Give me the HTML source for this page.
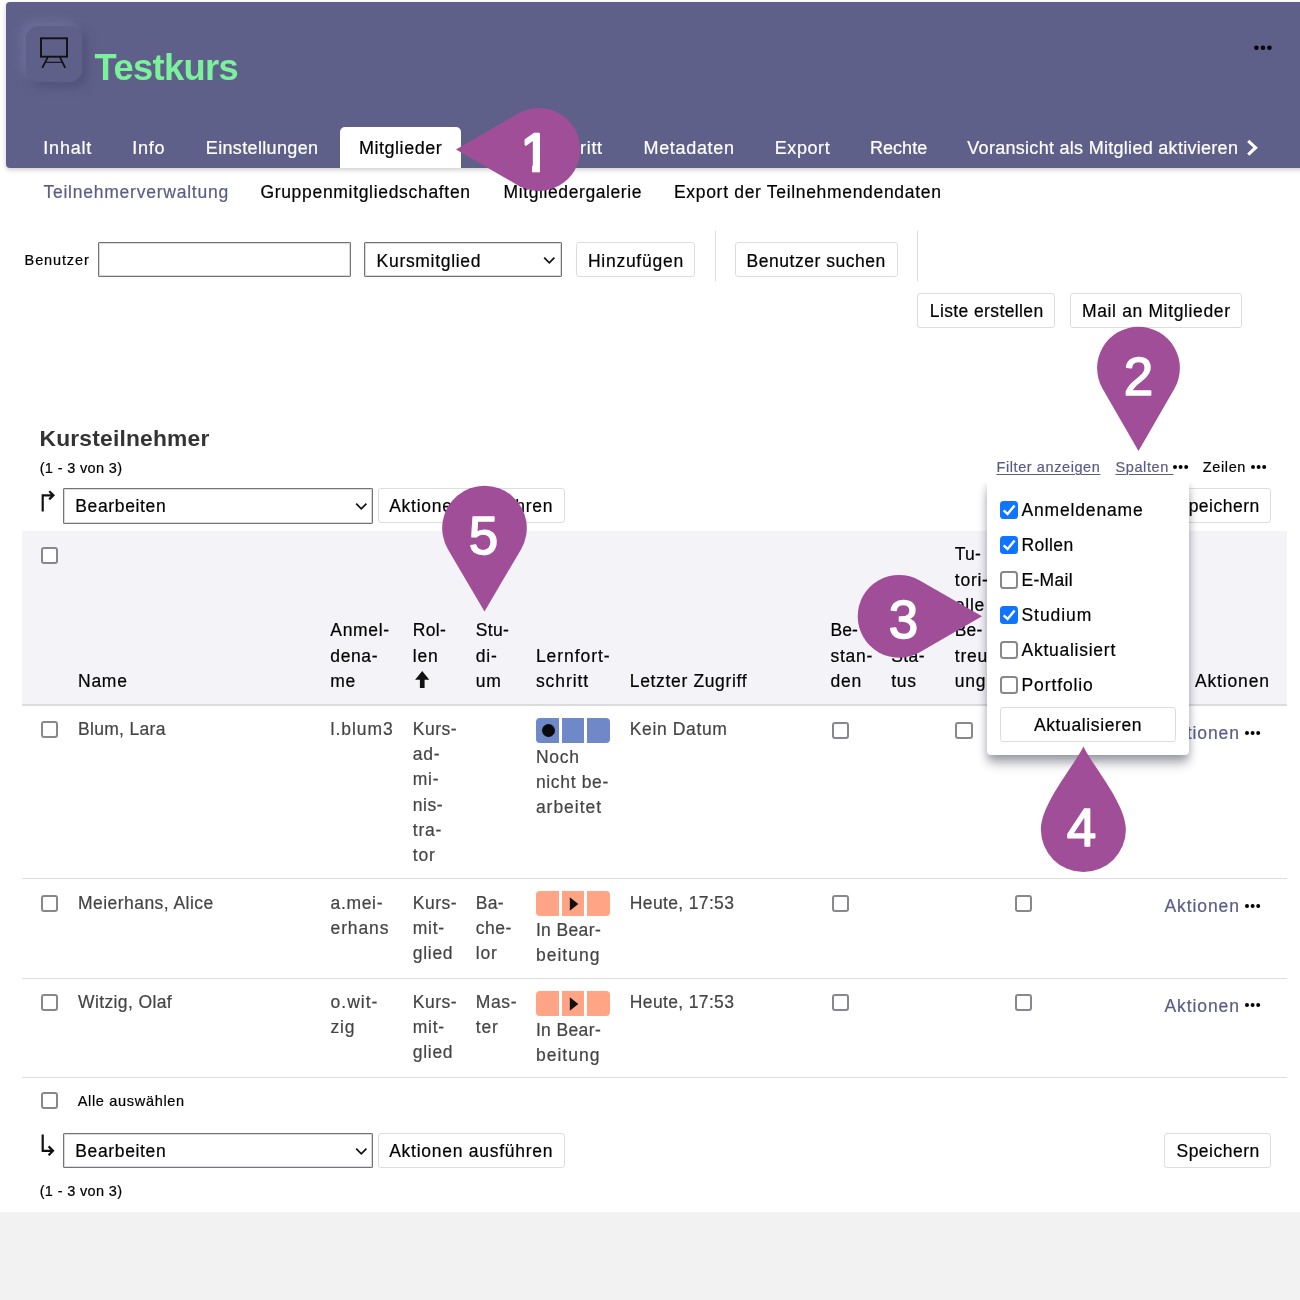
<!DOCTYPE html>
<html lang="de">
<head>
<meta charset="utf-8">
<title>Testkurs – Mitglieder</title>
<style>
html,body{margin:0;padding:0;}
body{width:1300px;height:1300px;overflow:hidden;background:#f2f2f2;font-family:"Liberation Sans",sans-serif;position:relative;}
.abs,.t,.btn,.inp,.cb,.line,.seg{position:absolute;box-sizing:border-box;}
.t{white-space:pre;line-height:1;-webkit-text-stroke:0.2px;}
#page{position:absolute;left:0;top:0;width:1300px;height:1212px;background:#fff;}
#hdr{position:absolute;left:6px;top:2px;width:1300px;height:165.5px;background:#5f608a;border-radius:4px 0 0 4px;box-shadow:0 2px 5px rgba(0,0,0,.2);}
#icon{position:absolute;left:26px;top:26px;width:56px;height:56px;border-radius:12px;background:#5f608a;box-shadow:-5px -5px 10px rgba(120,121,165,.55),5px 5px 10px rgba(70,71,110,.55);}
#tab{position:absolute;left:340px;top:127px;width:120.7px;height:41px;background:#fff;border-radius:5px 5px 0 0;}
.btn{background:#fff;border:1px solid #ddd;border-radius:3px;}
.inp{background:#fff;border:1px solid #73737d;border-radius:1px;box-shadow:inset 0 0 0 1px rgba(118,118,130,.28);}
.line{background:#ddd;}
.cb{width:17.4px;height:17px;border:2px solid #87878f;border-radius:3px;background:#fff;}
.cb.on{border:0;background:#0f75ff;}
.cb.dc{width:18px;height:18px;border-radius:3.5px;}
.seg{height:25.2px;}
.blue{background:#6f89c8;}
.sal{background:#ffa585;}
#thead{position:absolute;left:21.5px;top:531px;width:1265px;height:173px;background:#f4f3f7;border-bottom:2.4px solid #dcdcdc;box-sizing:content-box;}
#dd{position:absolute;left:987.2px;top:481px;width:201.7px;height:274.2px;background:#fff;border-radius:0 0 4px 4px;box-shadow:0 9px 11px -1px rgba(30,30,55,.36),0 3px 7px rgba(30,30,55,.16);clip-path:inset(2px -40px -40px -40px);}
svg{position:absolute;overflow:visible;}
.num{font-family:"Liberation Sans",sans-serif;font-size:53px;fill:#fff;text-anchor:middle;stroke:#fff;stroke-width:1.5px;stroke-linejoin:round;}
</style>
</head>
<body>
<div id="page">
  <header id="hdr"></header>
  <div id="icon"></div>
  <svg style="left:38px;top:35px" width="32" height="36" viewBox="38 35 32 36"><rect x="41" y="38.3" width="26" height="18.4" fill="none" stroke="#111" stroke-width="1.9"/><path d="M47.7 57.3 L42.3 67.8 M60 57.3 L65.2 67.8" stroke="#111" stroke-width="1.7" fill="none"/><path d="M46 62.3 H62" stroke="#111" stroke-width="1.1"/></svg>
  <svg style="left:1253px;top:44px" width="20" height="8" viewBox="0 0 20 8"><circle cx="3.4" cy="3.8" r="2.3"/><circle cx="9.9" cy="3.8" r="2.3"/><circle cx="16.4" cy="3.8" r="2.3"/></svg>
  <nav id="tab"></nav>
  <svg style="left:1246px;top:139px" width="14" height="18" viewBox="0 0 14 18"><path d="M2.2 1.8 L9.6 8.7 L2.2 15.6" fill="none" stroke="#fff" stroke-width="3.1"/></svg>

  <!-- toolbar -->
  <div class="inp" style="left:98px;top:242px;width:252.5px;height:35px"></div>
  <div class="inp" style="left:364.2px;top:242px;width:197.5px;height:35px"></div>
  <svg style="left:543px;top:256px" width="13" height="9" viewBox="0 0 13 9"><path d="M1.2 1.6 L6.3 6.8 L11.4 1.6" fill="none" stroke="#111" stroke-width="1.7"/></svg>
  <div class="btn" style="left:575.8px;top:242px;width:119.6px;height:35px"></div>
  <div class="line" style="left:715px;top:231px;width:1px;height:50px"></div>
  <div class="btn" style="left:735px;top:242px;width:162.6px;height:35px"></div>
  <div class="line" style="left:916.7px;top:231px;width:1px;height:50px"></div>
  <div class="btn" style="left:917.3px;top:293px;width:138.2px;height:34.5px"></div>
  <div class="btn" style="left:1070px;top:293px;width:172.4px;height:34.5px"></div>

  <!-- table tools -->
  <svg style="left:40px;top:490px" width="16" height="22" viewBox="0 0 16 22"><path d="M2.7 21.6 V5.3 H13 M9.2 1.2 L13.4 5.3 L9.2 9.4" fill="none" stroke="#111" stroke-width="2.2"/></svg>
  <div class="inp" style="left:63px;top:488px;width:310.3px;height:35.7px"></div>
  <svg style="left:355px;top:502px" width="13" height="9" viewBox="0 0 13 9"><path d="M1.2 1.6 L6.3 6.8 L11.4 1.6" fill="none" stroke="#111" stroke-width="1.7"/></svg>
  <div class="btn" style="left:377.7px;top:488.3px;width:187.3px;height:35px"></div>
  <div class="btn" style="left:1164.3px;top:488.3px;width:106.6px;height:35px"></div>
  <svg style="left:1172px;top:464px" width="18" height="6" viewBox="0 0 18 6"><circle cx="3" cy="3" r="2"/><circle cx="8.6" cy="3" r="2"/><circle cx="14.2" cy="3" r="2"/></svg>
  <svg style="left:1249.5px;top:464px" width="18" height="6" viewBox="0 0 18 6"><circle cx="3" cy="3" r="2"/><circle cx="8.6" cy="3" r="2"/><circle cx="14.2" cy="3" r="2"/></svg>

  <!-- table -->
  <div id="thead"></div>
  <div class="line" style="left:21.5px;top:878px;width:1265px;height:1px"></div>
  <div class="line" style="left:21.5px;top:977.6px;width:1265px;height:1px"></div>
  <div class="line" style="left:21.5px;top:1077px;width:1265px;height:1px"></div>
  <div class="cb" style="left:40.6px;top:547px"></div>
  <svg style="left:415.4px;top:671px" width="15" height="18" viewBox="0 0 15 18"><path d="M7.2 0 L14.3 8.7 H9.6 V17 H4.9 V8.7 H0.1 Z" fill="#111"/></svg>

  <!-- row 1 -->
  <div class="cb" style="left:40.6px;top:721.2px"></div>
  <div class="seg blue" style="left:536.3px;top:717.9px;width:22.8px;border-radius:4px 0 0 4px"></div>
  <div class="seg blue" style="left:562.1px;top:717.9px;width:22px"></div>
  <div class="seg blue" style="left:587.1px;top:717.9px;width:23.1px;border-radius:0 4px 4px 0"></div>
  <div class="abs" style="left:541.8px;top:724.3px;width:13px;height:13px;border-radius:50%;background:#0a0a0a"></div>
  <div class="cb" style="left:831.6px;top:721.8px"></div>
  <div class="cb" style="left:955.2px;top:721.8px"></div>
  <svg style="left:1243.7px;top:729.6px" width="18" height="6" viewBox="0 0 18 6"><circle cx="3" cy="3" r="2"/><circle cx="8.6" cy="3" r="2"/><circle cx="14.2" cy="3" r="2"/></svg>
  <!-- row 2 -->
  <div class="cb" style="left:40.6px;top:895px"></div>
  <div class="seg sal" style="left:536.3px;top:891.3px;width:22.8px;border-radius:4px 0 0 4px"></div>
  <div class="seg sal" style="left:562.1px;top:891.3px;width:22px"></div>
  <div class="seg sal" style="left:587.1px;top:891.3px;width:23.1px;border-radius:0 4px 4px 0"></div>
  <svg style="left:569px;top:897px" width="11" height="14" viewBox="0 0 11 14"><path d="M0.8 0.3 L9.3 7 L0.8 13.7 Z" fill="#111"/></svg>
  <div class="cb" style="left:831.8px;top:895px"></div>
  <div class="cb" style="left:1015px;top:895px"></div>
  <svg style="left:1243.7px;top:903px" width="18" height="6" viewBox="0 0 18 6"><circle cx="3" cy="3" r="2"/><circle cx="8.6" cy="3" r="2"/><circle cx="14.2" cy="3" r="2"/></svg>
  <!-- row 3 -->
  <div class="cb" style="left:40.6px;top:994.2px"></div>
  <div class="seg sal" style="left:536.3px;top:990.8px;width:22.8px;border-radius:4px 0 0 4px"></div>
  <div class="seg sal" style="left:562.1px;top:990.8px;width:22px"></div>
  <div class="seg sal" style="left:587.1px;top:990.8px;width:23.1px;border-radius:0 4px 4px 0"></div>
  <svg style="left:569px;top:996.5px" width="11" height="14" viewBox="0 0 11 14"><path d="M0.8 0.3 L9.3 7 L0.8 13.7 Z" fill="#111"/></svg>
  <div class="cb" style="left:831.8px;top:994.3px"></div>
  <div class="cb" style="left:1015px;top:994.3px"></div>
  <svg style="left:1243.7px;top:1002.4px" width="18" height="6" viewBox="0 0 18 6"><circle cx="3" cy="3" r="2"/><circle cx="8.6" cy="3" r="2"/><circle cx="14.2" cy="3" r="2"/></svg>
  <!-- bottom -->
  <div class="cb" style="left:40.6px;top:1092.2px"></div>
  <svg style="left:40px;top:1134px" width="16" height="24" viewBox="0 0 16 24"><path d="M2.7 0.6 V16.8 H12.6 M8.6 12.4 L13 16.8 L8.6 21.2" fill="none" stroke="#111" stroke-width="2.2"/></svg>
  <div class="inp" style="left:63px;top:1133px;width:310.3px;height:35.3px"></div>
  <svg style="left:355px;top:1147px" width="13" height="9" viewBox="0 0 13 9"><path d="M1.2 1.6 L6.3 6.8 L11.4 1.6" fill="none" stroke="#111" stroke-width="1.7"/></svg>
  <div class="btn" style="left:377.7px;top:1133.2px;width:187.3px;height:35px"></div>
  <div class="btn" style="left:1164.3px;top:1133.2px;width:106.6px;height:35px"></div>

<span class="t" style="left:94.6px;top:50.0px;font-size:36.3px;color:#7cf19c;letter-spacing:-0.656px;font-weight:700;-webkit-text-stroke:0;">Testkurs</span>
<span class="t" style="left:43.3px;top:139.0px;font-size:18px;color:#fff;letter-spacing:0.806px;">Inhalt</span>
<span class="t" style="left:132.2px;top:139.0px;font-size:18px;color:#fff;letter-spacing:0.75px;">Info</span>
<span class="t" style="left:205.8px;top:139.0px;font-size:18px;color:#fff;letter-spacing:0.343px;">Einstellungen</span>
<span class="t" style="left:358.9px;top:139.0px;font-size:18px;color:#000;letter-spacing:0.542px;">Mitglieder</span>
<span class="t" style="left:482.6px;top:139.0px;font-size:18px;color:#fff;letter-spacing:0.678px;">Lernfortschritt</span>
<span class="t" style="left:643.5px;top:139.0px;font-size:18px;color:#fff;letter-spacing:0.673px;">Metadaten</span>
<span class="t" style="left:774.7px;top:139.0px;font-size:18px;color:#fff;letter-spacing:0.591px;">Export</span>
<span class="t" style="left:869.9px;top:139.0px;font-size:18px;color:#fff;letter-spacing:0.061px;">Rechte</span>
<span class="t" style="left:967.3px;top:139.0px;font-size:18px;color:#fff;letter-spacing:0.288px;">Voransicht als Mitglied aktivieren</span>
<span class="t" style="left:43.4px;top:184.0px;font-size:17.5px;color:#5b5c86;letter-spacing:0.769px;">Teilnehmerverwaltung</span>
<span class="t" style="left:260.4px;top:184.0px;font-size:17.5px;color:#000;letter-spacing:0.687px;">Gruppenmitgliedschaften</span>
<span class="t" style="left:503.6px;top:184.0px;font-size:17.5px;color:#000;letter-spacing:0.595px;">Mitgliedergalerie</span>
<span class="t" style="left:674.0px;top:184.0px;font-size:17.5px;color:#000;letter-spacing:0.682px;">Export der Teilnehmendendaten</span>
<span class="t" style="left:24.6px;top:253.0px;font-size:14.5px;color:#000;letter-spacing:0.873px;">Benutzer</span>
<span class="t" style="left:376.6px;top:253.0px;font-size:17.5px;color:#000;letter-spacing:0.689px;">Kursmitglied</span>
<span class="t" style="left:587.9px;top:253.0px;font-size:17.5px;color:#000;letter-spacing:0.745px;">Hinzufügen</span>
<span class="t" style="left:746.5px;top:253.0px;font-size:17.5px;color:#000;letter-spacing:0.53px;">Benutzer suchen</span>
<span class="t" style="left:929.8px;top:303.0px;font-size:17.5px;color:#000;letter-spacing:0.389px;">Liste erstellen</span>
<span class="t" style="left:1082.0px;top:303.0px;font-size:17.5px;color:#000;letter-spacing:0.639px;">Mail an Mitglieder</span>
<span class="t" style="left:39.5px;top:427.0px;font-size:22.8px;color:#333;letter-spacing:0.198px;font-weight:700;-webkit-text-stroke:0;">Kursteilnehmer</span>
<span class="t" style="left:39.7px;top:461.0px;font-size:14.5px;color:#000;letter-spacing:0.346px;">(1 - 3 von 3)</span>
<span class="t" style="left:996.5px;top:460.0px;font-size:14.5px;color:#5b5c86;letter-spacing:0.585px;text-decoration:underline;text-underline-offset:2px;text-decoration-thickness:1px;">Filter anzeigen</span>
<span class="t" style="left:1115.5px;top:460.0px;font-size:14.5px;color:#5b5c86;letter-spacing:0.601px;text-decoration:underline;text-underline-offset:2px;text-decoration-thickness:1px;">Spalten&nbsp;</span>
<span class="t" style="left:1202.8px;top:460.0px;font-size:14.5px;color:#000;letter-spacing:0.617px;">Zeilen</span>
<span class="t" style="left:75.2px;top:498.0px;font-size:17.5px;color:#000;letter-spacing:0.649px;">Bearbeiten</span>
<span class="t" style="left:389.2px;top:498.0px;font-size:17.5px;color:#000;letter-spacing:0.732px;">Aktionen ausführen</span>
<span class="t" style="left:1176.5px;top:498.0px;font-size:17.5px;color:#000;letter-spacing:0.484px;">Speichern</span>
<span class="t" style="left:78.0px;top:673.0px;font-size:17.5px;color:#000;letter-spacing:0.75px;">Name</span>
<span class="t" style="left:330.3px;top:622.0px;font-size:17.5px;color:#000;letter-spacing:0.67px;">Anmel-</span>
<span class="t" style="left:330.3px;top:648.0px;font-size:17.5px;color:#000;letter-spacing:0.613px;">dena-</span>
<span class="t" style="left:330.3px;top:673.0px;font-size:17.5px;color:#000;letter-spacing:0.75px;">me</span>
<span class="t" style="left:412.8px;top:622.0px;font-size:17.5px;color:#000;letter-spacing:0.352px;">Rol-</span>
<span class="t" style="left:412.8px;top:648.0px;font-size:17.5px;color:#000;letter-spacing:0.75px;">len</span>
<span class="t" style="left:475.8px;top:622.0px;font-size:17.5px;color:#000;letter-spacing:0.347px;">Stu-</span>
<span class="t" style="left:475.8px;top:648.0px;font-size:17.5px;color:#000;letter-spacing:0.75px;">di-</span>
<span class="t" style="left:475.8px;top:673.0px;font-size:17.5px;color:#000;letter-spacing:0.75px;">um</span>
<span class="t" style="left:535.9px;top:648.0px;font-size:17.5px;color:#000;letter-spacing:0.951px;">Lernfort-</span>
<span class="t" style="left:535.9px;top:673.0px;font-size:17.5px;color:#000;letter-spacing:0.929px;">schritt</span>
<span class="t" style="left:629.8px;top:673.0px;font-size:17.5px;color:#000;letter-spacing:0.654px;">Letzter Zugriff</span>
<span class="t" style="left:830.5px;top:622.0px;font-size:17.5px;color:#000;letter-spacing:0.1px;">Be-</span>
<span class="t" style="left:830.5px;top:648.0px;font-size:17.5px;color:#000;letter-spacing:0.75px;">stan-</span>
<span class="t" style="left:830.5px;top:673.0px;font-size:17.5px;color:#000;letter-spacing:0.75px;">den</span>
<span class="t" style="left:891.2px;top:648.0px;font-size:17.5px;color:#000;letter-spacing:0.433px;">Sta-</span>
<span class="t" style="left:891.2px;top:673.0px;font-size:17.5px;color:#000;letter-spacing:0.75px;">tus</span>
<span class="t" style="left:954.8px;top:546.0px;font-size:17.5px;color:#000;letter-spacing:0.206px;">Tu-</span>
<span class="t" style="left:954.8px;top:572.0px;font-size:17.5px;color:#000;letter-spacing:0.75px;">tori-</span>
<span class="t" style="left:954.8px;top:597.0px;font-size:17.5px;color:#000;letter-spacing:0.75px;">elle</span>
<span class="t" style="left:954.8px;top:622.0px;font-size:17.5px;color:#000;letter-spacing:0.1px;">Be-</span>
<span class="t" style="left:954.8px;top:648.0px;font-size:17.5px;color:#000;letter-spacing:0.75px;">treu-</span>
<span class="t" style="left:954.8px;top:673.0px;font-size:17.5px;color:#000;letter-spacing:0.75px;">ung</span>
<span class="t" style="left:1195.0px;top:673.0px;font-size:17.5px;color:#000;letter-spacing:0.842px;">Aktionen</span>
<span class="t" style="left:78.0px;top:721.0px;font-size:17.5px;color:#444;letter-spacing:0.305px;">Blum, Lara</span>
<span class="t" style="left:330.6px;top:721.0px;font-size:17.5px;color:#444;letter-spacing:0.939px;">l.blum3</span>
<span class="t" style="left:412.8px;top:721.0px;font-size:17.5px;color:#444;letter-spacing:0.514px;">Kurs-</span>
<span class="t" style="left:412.8px;top:746.0px;font-size:17.5px;color:#444;letter-spacing:0.731px;">ad-</span>
<span class="t" style="left:412.8px;top:771.0px;font-size:17.5px;color:#444;letter-spacing:0.75px;">mi-</span>
<span class="t" style="left:412.8px;top:797.0px;font-size:17.5px;color:#444;letter-spacing:0.549px;">nis-</span>
<span class="t" style="left:412.8px;top:822.0px;font-size:17.5px;color:#444;letter-spacing:0.75px;">tra-</span>
<span class="t" style="left:412.8px;top:847.0px;font-size:17.5px;color:#444;letter-spacing:0.75px;">tor</span>
<span class="t" style="left:535.9px;top:749.0px;font-size:17.5px;color:#444;letter-spacing:0.75px;">Noch</span>
<span class="t" style="left:535.9px;top:774.0px;font-size:17.5px;color:#444;letter-spacing:0.659px;">nicht be-</span>
<span class="t" style="left:535.9px;top:799.0px;font-size:17.5px;color:#444;letter-spacing:0.967px;">arbeitet</span>
<span class="t" style="left:629.8px;top:721.0px;font-size:17.5px;color:#444;letter-spacing:0.62px;">Kein Datum</span>
<span class="t" style="left:1164.4px;top:725.0px;font-size:17.5px;color:#5b5c86;letter-spacing:0.922px;">Aktionen</span>
<span class="t" style="left:78.0px;top:895.0px;font-size:17.5px;color:#444;letter-spacing:0.453px;">Meierhans, Alice</span>
<span class="t" style="left:330.6px;top:895.0px;font-size:17.5px;color:#444;letter-spacing:0.655px;">a.mei-</span>
<span class="t" style="left:330.6px;top:920.0px;font-size:17.5px;color:#444;letter-spacing:0.856px;">erhans</span>
<span class="t" style="left:412.8px;top:895.0px;font-size:17.5px;color:#444;letter-spacing:0.514px;">Kurs-</span>
<span class="t" style="left:412.8px;top:920.0px;font-size:17.5px;color:#444;letter-spacing:0.75px;">mit-</span>
<span class="t" style="left:412.8px;top:945.0px;font-size:17.5px;color:#444;letter-spacing:0.698px;">glied</span>
<span class="t" style="left:475.8px;top:895.0px;font-size:17.5px;color:#444;letter-spacing:0.316px;">Ba-</span>
<span class="t" style="left:475.8px;top:920.0px;font-size:17.5px;color:#444;letter-spacing:0.508px;">che-</span>
<span class="t" style="left:475.8px;top:945.0px;font-size:17.5px;color:#444;letter-spacing:0.75px;">lor</span>
<span class="t" style="left:535.9px;top:922.0px;font-size:17.5px;color:#444;letter-spacing:0.37px;">In Bear-</span>
<span class="t" style="left:535.9px;top:947.0px;font-size:17.5px;color:#444;letter-spacing:1.016px;">beitung</span>
<span class="t" style="left:629.8px;top:895.0px;font-size:17.5px;color:#444;letter-spacing:0.357px;">Heute, 17:53</span>
<span class="t" style="left:1164.4px;top:898.0px;font-size:17.5px;color:#5b5c86;letter-spacing:0.922px;">Aktionen</span>
<span class="t" style="left:78.0px;top:994.0px;font-size:17.5px;color:#444;letter-spacing:0.387px;">Witzig, Olaf</span>
<span class="t" style="left:330.6px;top:994.0px;font-size:17.5px;color:#444;letter-spacing:0.984px;">o.wit-</span>
<span class="t" style="left:330.6px;top:1019.0px;font-size:17.5px;color:#444;letter-spacing:0.74px;">zig</span>
<span class="t" style="left:412.8px;top:994.0px;font-size:17.5px;color:#444;letter-spacing:0.514px;">Kurs-</span>
<span class="t" style="left:412.8px;top:1019.0px;font-size:17.5px;color:#444;letter-spacing:0.75px;">mit-</span>
<span class="t" style="left:412.8px;top:1044.0px;font-size:17.5px;color:#444;letter-spacing:0.698px;">glied</span>
<span class="t" style="left:475.8px;top:994.0px;font-size:17.5px;color:#444;letter-spacing:0.61px;">Mas-</span>
<span class="t" style="left:475.8px;top:1019.0px;font-size:17.5px;color:#444;letter-spacing:0.75px;">ter</span>
<span class="t" style="left:535.9px;top:1022.0px;font-size:17.5px;color:#444;letter-spacing:0.37px;">In Bear-</span>
<span class="t" style="left:535.9px;top:1047.0px;font-size:17.5px;color:#444;letter-spacing:1.016px;">beitung</span>
<span class="t" style="left:629.8px;top:994.0px;font-size:17.5px;color:#444;letter-spacing:0.357px;">Heute, 17:53</span>
<span class="t" style="left:1164.4px;top:998.0px;font-size:17.5px;color:#5b5c86;letter-spacing:0.922px;">Aktionen</span>
<span class="t" style="left:77.7px;top:1094.0px;font-size:14.5px;color:#000;letter-spacing:0.685px;">Alle auswählen</span>
<span class="t" style="left:75.2px;top:1143.0px;font-size:17.5px;color:#000;letter-spacing:0.649px;">Bearbeiten</span>
<span class="t" style="left:389.2px;top:1143.0px;font-size:17.5px;color:#000;letter-spacing:0.732px;">Aktionen ausführen</span>
<span class="t" style="left:1176.5px;top:1143.0px;font-size:17.5px;color:#000;letter-spacing:0.484px;">Speichern</span>
<span class="t" style="left:39.7px;top:1184.0px;font-size:14.5px;color:#000;letter-spacing:0.346px;">(1 - 3 von 3)</span>

  <!-- markers below dropdown: 1,2,3,5 -->
  <svg style="left:0;top:0" width="1300" height="1300" viewBox="0 0 1300 1300">
    <g fill="#a04e98">
      <path transform="translate(539,149.5) rotate(90)" d="M0 83 L-35.9 20.75 A41.4 41.4 0 1 1 35.9 20.75 Z"/>
      <path transform="translate(1138.5,368)" d="M0 83 L-35.9 20.75 A41.4 41.4 0 1 1 35.9 20.75 Z"/>
      <path transform="translate(899,616.3) rotate(-90)" d="M0 83 L-35.9 20.75 A41.4 41.4 0 1 1 35.9 20.75 Z"/>
      <path transform="translate(484.5,528.4)" d="M0 83 L-36.5 21 A42.3 42.3 0 1 1 36.5 21 Z"/>
    </g>
    <text class="num" x="535.4" y="170.6" style="stroke-width:2.4px">1</text>
    <path fill="#a04e98" d="M518 163.4 H532.1 V174 H518 Z M539.9 163.4 H553 V174 H539.9 Z"/>
    <text class="num" x="1138.6" y="395">2</text>
    <text class="num" x="903.5" y="638">3</text>
    <text class="num" x="483.4" y="554">5</text>
  </svg>

  <!-- column chooser dropdown -->
  <div id="dd"></div>
  <div class="cb dc on" style="left:1000px;top:501px"></div>
  <div class="cb dc on" style="left:1000px;top:536px"></div>
  <div class="cb dc"    style="left:1000px;top:571px"></div>
  <div class="cb dc on" style="left:1000px;top:606px"></div>
  <div class="cb dc"    style="left:1000px;top:641px"></div>
  <div class="cb dc"    style="left:1000px;top:676px"></div>
  <svg style="left:1000px;top:501px" width="18" height="130" viewBox="0 0 18 130"><g fill="none" stroke="#fff" stroke-width="2.4"><path d="M3.6 9.4 L7.6 13 L14.6 4.4"/><path d="M3.6 44.4 L7.6 48 L14.6 39.4"/><path d="M3.6 114.4 L7.6 118 L14.6 109.4"/></g></svg>
  <div class="btn" style="left:1000.3px;top:707.2px;width:175.4px;height:34.4px"></div>
<span class="t" style="left:1021.5px;top:502.0px;font-size:17.5px;color:#000;letter-spacing:0.835px;">Anmeldename</span>
<span class="t" style="left:1021.5px;top:537.0px;font-size:17.5px;color:#000;letter-spacing:0.418px;">Rollen</span>
<span class="t" style="left:1021.5px;top:572.0px;font-size:17.5px;color:#000;letter-spacing:0.297px;">E-Mail</span>
<span class="t" style="left:1021.5px;top:607.0px;font-size:17.5px;color:#000;letter-spacing:0.942px;">Studium</span>
<span class="t" style="left:1021.5px;top:642.0px;font-size:17.5px;color:#000;letter-spacing:0.742px;">Aktualisiert</span>
<span class="t" style="left:1021.5px;top:677.0px;font-size:17.5px;color:#000;letter-spacing:0.885px;">Portfolio</span>
<span class="t" style="left:1033.9px;top:717.0px;font-size:17.5px;color:#000;letter-spacing:0.626px;">Aktualisieren</span>
  <svg style="left:0;top:0" width="1300" height="1300" viewBox="0 0 1300 1300">
    <path fill="#a04e98" transform="translate(1083.4,829.6)" d="M0 -83 C9 -64 42.5 -26 42.5 0 A42.5 42.5 0 1 1 -42.5 0 C-42.5 -26 -9 -64 0 -83 Z"/>
    <text class="num" x="1081.5" y="845.6">4</text>
  </svg>
</div>
</body>
</html>
